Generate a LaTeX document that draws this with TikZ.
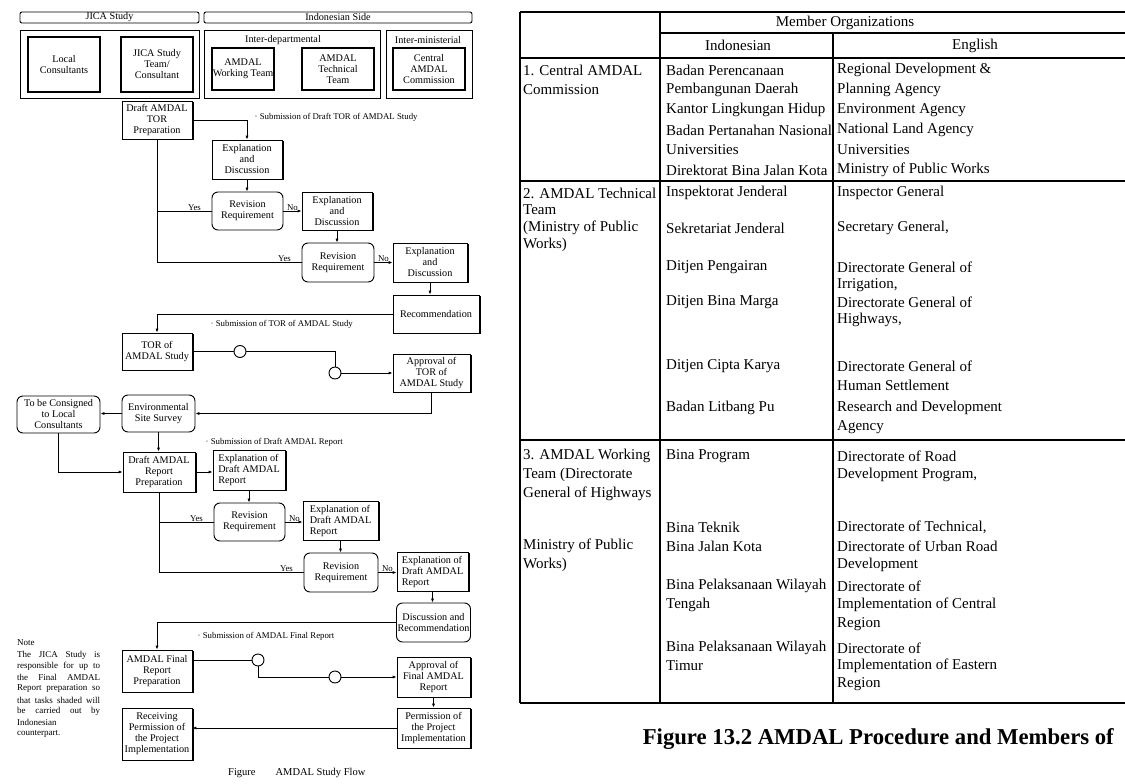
\documentclass[tikz,border=0pt]{standalone}
\usepackage{fontspec}
\setmainfont{Liberation Serif}
\usetikzlibrary{shadows,arrows.meta}
\newcommand\fbx{\fontsize{10.2}{11}\selectfont}
\newcommand\flb{\fontsize{8.8}{10}\selectfont}
\newcommand\ftb{\fontsize{15}{18}\selectfont}
\newcommand\mybox[7]{\node[#1, minimum width=#5pt, minimum height=#6pt] (#2) at (#3,#4) {#7};}
\begin{document}
\begin{tikzpicture}[x=1pt,y=-1pt,
  base/.style={draw, line width=0.8pt, fill=white, align=center, font=\fbx, inner sep=0.3pt, text=black},
  sbox/.style={base, drop shadow={shadow xshift=1.6pt, shadow yshift=-1.2pt, opacity=1, fill=black}},
  rbox/.style={base, rounded corners=6pt, line width=0.9pt},
  grp/.style={draw, line width=0.9pt, inner sep=0pt},
  hdr/.style={draw, line width=0.9pt, rounded corners=2pt, font=\fbx, inner sep=0pt},
  ln/.style={line width=0.9pt},
  arr/.style={ln, -{Latex[length=4pt,width=3.2pt]}},
  lbl/.style={font=\flb, inner sep=0.5pt},
  circ/.style={circle, draw, line width=0.9pt, fill=white, minimum size=12pt, inner sep=0pt},
  tb/.style={font=\ftb, inner sep=0pt, anchor=west},
  tl/.style={line width=1.3pt},
  nt/.style={font=\fontsize{9}{10}\selectfont, inner sep=0pt, anchor=west}
]
\useasboundingbox[fill=white] (0,0) rectangle (1125,784);

% ---------- top organisation boxes ----------
\mybox{hdr}{hj}{109.5}{17.5}{179}{11}{JICA Study}
\mybox{hdr}{hi}{338}{17.5}{268}{11}{Indonesian Side}
\mybox{grp}{gj}{109.5}{64}{179}{68}{}
\mybox{grp}{gd}{292}{64}{176}{68}{}
\mybox{grp}{gm}{429}{64}{86}{68}{}
\node[lbl, font=\fbx] (ld) at (283,40) {Inter-departmental};
\node[lbl, font=\fbx] (lm) at (428,40) {Inter-ministerial};
\mybox{base,line width=1.1pt}{lc}{64}{64.5}{72}{55}{Local\\Consultants}
\mybox{base,line width=1.1pt}{jst}{157}{64.5}{72}{55}{JICA Study\\Team/\\Consultant}
\mybox{base,line width=1.1pt}{awt}{243}{69}{62}{42}{AMDAL\\Working Team}
\mybox{base,line width=1.1pt}{att}{338}{69}{72}{42}{AMDAL\\Technical\\Team}
\mybox{base,line width=1.1pt}{cac}{429}{69}{72}{42}{Central\\AMDAL\\Commission}

% ---------- flow boxes ----------
\mybox{sbox}{dtor}{157}{120}{70}{38}{Draft AMDAL\\TOR\\Preparation}
\mybox{sbox}{ed1}{247}{159.5}{70}{39}{Explanation\\and\\Discussion}
\mybox{rbox}{rev1}{247.5}{211}{71}{38}{Revision\\Requirement}
\mybox{sbox}{ed2}{337}{211}{70}{38}{Explanation\\and\\Discussion}
\mybox{rbox}{rev2}{338}{262.5}{72}{39}{Revision\\Requirement}
\mybox{sbox}{ed3}{430}{262.5}{74}{39}{Explanation\\and\\Discussion}
\mybox{sbox}{rec}{436}{314}{86}{38}{Recommendation}
\mybox{sbox}{tor}{157}{351.5}{70}{37}{TOR of\\AMDAL Study}
\mybox{sbox}{apt}{431.5}{373}{77}{38}{Approval of\\TOR of\\AMDAL Study}
\mybox{rbox}{env}{158.5}{413.5}{73}{37}{Environmental\\Site Survey}
\mybox{rbox}{cons}{58.5}{414.5}{83}{37}{To be Consigned\\to Local\\Consultants}
\mybox{sbox}{drp}{159}{472}{72}{40}{Draft AMDAL\\Report\\Preparation}
\mybox{sbox,align=left}{edr1}{249}{470}{72}{40}{Explanation of\\Draft AMDAL\\Report}
\mybox{rbox}{rev3}{249.5}{522}{71}{38}{Revision\\Requirement}
\mybox{sbox,align=left}{edr2}{340.5}{520.5}{75}{39}{Explanation of\\Draft AMDAL\\Report}
\mybox{rbox}{rev4}{341}{572.5}{74}{39}{Revision\\Requirement}
\mybox{sbox,align=left}{edr3}{432.5}{571.5}{71}{39}{Explanation of\\Draft AMDAL\\Report}
\mybox{rbox}{disc}{433.5}{622.5}{74}{39}{Discussion and\\Recommendation}
\mybox{sbox}{frp}{157}{671}{70}{42}{AMDAL Final\\Report\\Preparation}
\mybox{sbox}{apf}{433.5}{677}{73}{40}{Approval of\\Final AMDAL\\Report}
\mybox{sbox}{perm}{433.5}{728}{73}{40}{Permission of\\the Project\\Implementation}
\mybox{sbox}{recv}{157}{734}{70}{52}{Receiving\\Permission of\\the Project\\Implementation}

\node[circ] (c1) at (240,351.5) {};
\node[circ] (c2) at (335,373) {};
\node[circ] (c3) at (258,660) {};
\node[circ] (c4) at (335,677) {};

% ---------- connectors ----------
\draw[arr] (dtor.east) -| (ed1.north);
\draw[arr] (ed1.south) -- (ed1.south |- rev1.north);
\draw[ln] (dtor.south) |- (rev2.west);
\draw[ln] (rev1.west) -- (rev1.west -| dtor.south);
\draw[arr] (rev1.east) -- (rev1.east -| ed2.west);
\draw[arr] (ed2.south) -- (ed2.south |- rev2.north);
\draw[arr] (rev2.east) -- (rev2.east -| ed3.west);
\draw[arr] (ed3.south) -- (ed3.south |- rec.north);
\draw[arr] (rec.west) -| (tor.north);
\draw[ln] (tor.east) -- (c1.west);
\draw[ln] (c1.east) -| (c2.north);
\draw[arr] (c2.east) -- (c2.east -| apt.west);
\draw[arr] (apt.south) |- (env.east);
\draw[arr] (env.west) -- (env.west -| cons.east);
\draw[arr] (cons.south) |- (drp.west);
\draw[arr] (env.south) -- (env.south |- drp.north);
\draw[arr] (drp.east) -- (drp.east -| edr1.west);
\draw[arr] (edr1.south) -- (edr1.south |- rev3.north);
\draw[ln] (drp.south) |- (rev4.west);
\draw[ln] (rev3.west) -- (rev3.west -| drp.south);
\draw[arr] (rev3.east) -- (rev3.east -| edr2.west);
\draw[arr] (edr2.south) -- (edr2.south |- rev4.north);
\draw[arr] (rev4.east) -- (rev4.east -| edr3.west);
\draw[arr] (edr3.south) -- (edr3.south |- disc.north);
\draw[arr] (disc.west) -| (frp.north);
\draw[ln] (frp.east |- c3) -- (c3.west);
\draw[ln] (c3.south) |- (c4.west);
\draw[arr] (c4.east) -- (c4.east -| apf.west);
\draw[arr] (apf.south) -- (apf.south |- perm.north);
\draw[arr] (perm.west) -- (perm.west -| recv.east);

% ---------- labels ----------
\node[lbl, anchor=south east] (y1) at ([xshift=-10pt]rev1.west) {Yes};
\node[lbl, anchor=south east] (y2) at ([xshift=-10pt]rev2.west) {Yes};
\node[lbl, anchor=south east] (y3) at ([xshift=-10pt]rev3.west) {Yes};
\node[lbl, anchor=south east] (y4) at ([xshift=-10pt]rev4.west) {Yes};
\node[lbl, anchor=south] (n1) at ([xshift=9pt]rev1.east) {No};
\node[lbl, anchor=south] (n2) at ([xshift=9pt]rev2.east) {No};
\node[lbl, anchor=south] (n3) at ([xshift=9pt]rev3.east) {No};
\node[lbl, anchor=south] (n4) at ([xshift=9pt]rev4.east) {No};
\node[lbl, anchor=west] (s1) at (254,117) {· Submission of Draft TOR of AMDAL Study};
\node[lbl, anchor=west] (s2) at (210,324) {· Submission of TOR of AMDAL Study};
\node[lbl, anchor=west] (s3) at (205,442) {· Submission of Draft AMDAL Report};
\node[lbl, anchor=west] (s4) at (197,636) {· Submission of AMDAL Final Report};

% note
\node[nt] (nt0) at (17,643) {Note};
\node[nt] (nt1) at (17,655) {\makebox[83pt][s]{The JICA Study is}};
\node[nt] (nt2) at (17,666) {\makebox[83pt][s]{responsible for up to}};
\node[nt] (nt3) at (17,677) {\makebox[83pt][s]{the Final AMDAL}};
\node[nt] (nt4) at (17,688) {\makebox[83pt][s]{Report preparation so}};
\node[nt] (nt5) at (17,700) {\makebox[83pt][s]{that tasks shaded will}};
\node[nt] (nt6) at (17,711) {\makebox[83pt][s]{be carried out by}};
\node[nt] (nt7) at (17,722) {Indonesian};
\node[nt] (nt8) at (17,734) {counterpart.};

\node[font=\fontsize{10.5}{12}\selectfont, inner sep=0pt, anchor=west] (cap) at (228,773) {Figure\hspace{20pt}AMDAL Study Flow};

% ---------- table ----------
\draw[tl] (520,12) -- (1125,12);
\draw[tl] (660,33) -- (1125,33);
\draw[tl] (520,58) -- (1125,58);
\draw[tl] (520,181) -- (1125,181);
\draw[tl] (520,440) -- (1125,440);
\draw[tl] (520,703) -- (1125,703);
\draw[line width=2pt] (520,12) -- (520,703);
\draw[line width=1.6pt] (660,12) -- (660,703);
\draw[tl] (833,33) -- (833,703);

\node[font=\ftb, inner sep=0pt] (hmo) at (845,22.5) {Member Organizations};
\node[font=\ftb, inner sep=0pt] (hin) at (738,45.5) {Indonesian};
\node[font=\ftb, inner sep=0pt] (hen) at (975,45.5) {English};

\node[tb] at (523,70) {1. Central AMDAL};
\node[tb] at (523,90) {Commission};
\node[tb] at (666,70) {Badan Perencanaan};
\node[tb] at (666,90) {Pembangunan Daerah};
\node[tb] at (666,110) {Kantor Lingkungan Hidup};
\node[tb] at (666,130) {Badan Pertanahan Nasional};
\node[tb] at (666,150) {Universities};
\node[tb] at (666,170) {Direktorat Bina Jalan Kota};
\node[tb] at (837,70) {Regional Development \&};
\node[tb] at (837,90) {Planning Agency};
\node[tb] at (837,110) {Environment Agency};
\node[tb] at (837,130) {National Land Agency};
\node[tb] at (837,150) {Universities};
\node[tb] at (837,170) {Ministry of Public Works};

\node[tb] at (523,193) {2. AMDAL Technical};
\node[tb] at (523,210) {Team};
\node[tb] at (523,228) {(Ministry of Public};
\node[tb] at (523,245) {Works)};
\node[tb] at (666,193) {Inspektorat Jenderal};
\node[tb] at (666,228) {Sekretariat Jenderal};
\node[tb] at (666,267) {Ditjen Pengairan};
\node[tb] at (666,302) {Ditjen Bina Marga};
\node[tb] at (666,366) {Ditjen Cipta Karya};
\node[tb] at (666,408) {Badan Litbang Pu};
\node[tb] at (837,193) {Inspector General};
\node[tb] at (837,228) {Secretary General,};
\node[tb] at (837,267) {Directorate General of};
\node[tb] at (837,285) {Irrigation,};
\node[tb] at (837,302) {Directorate General of};
\node[tb] at (837,320) {Highways,};
\node[tb] at (837,366) {Directorate General of};
\node[tb] at (837,385) {Human Settlement};
\node[tb] at (837,408) {Research and Development};
\node[tb] at (837,427) {Agency};

\node[tb] at (523,456) {3. AMDAL Working};
\node[tb] at (523,475) {Team (Directorate};
\node[tb] at (523,494) {General of Highways};
\node[tb] at (523,546) {Ministry of Public};
\node[tb] at (523,565) {Works)};
\node[tb] at (666,456) {Bina Program};
\node[tb] at (666,527) {Bina Teknik};
\node[tb] at (666,546) {Bina Jalan Kota};
\node[tb] at (666,586) {Bina Pelaksanaan Wilayah};
\node[tb] at (666,605) {Tengah};
\node[tb] at (666,648) {Bina Pelaksanaan Wilayah};
\node[tb] at (666,666) {Timur};
\node[tb] at (837,456) {Directorate of Road};
\node[tb] at (837,475) {Development Program,};
\node[tb] at (837,527) {Directorate of Technical,};
\node[tb] at (837,546) {Directorate of Urban Road};
\node[tb] at (837,565) {Development};
\node[tb] at (837,586) {Directorate of};
\node[tb] at (837,605) {Implementation of Central};
\node[tb] at (837,624) {Region};
\node[tb] at (837,648) {Directorate of};
\node[tb] at (837,666) {Implementation of Eastern};
\node[tb] at (837,684) {Region};

\node[font=\fontsize{22.7}{26}\selectfont\bfseries, anchor=east, inner sep=0pt] (title) at (1114,739) {Figure 13.2 AMDAL Procedure and Members of};
\end{tikzpicture}
\end{document}
